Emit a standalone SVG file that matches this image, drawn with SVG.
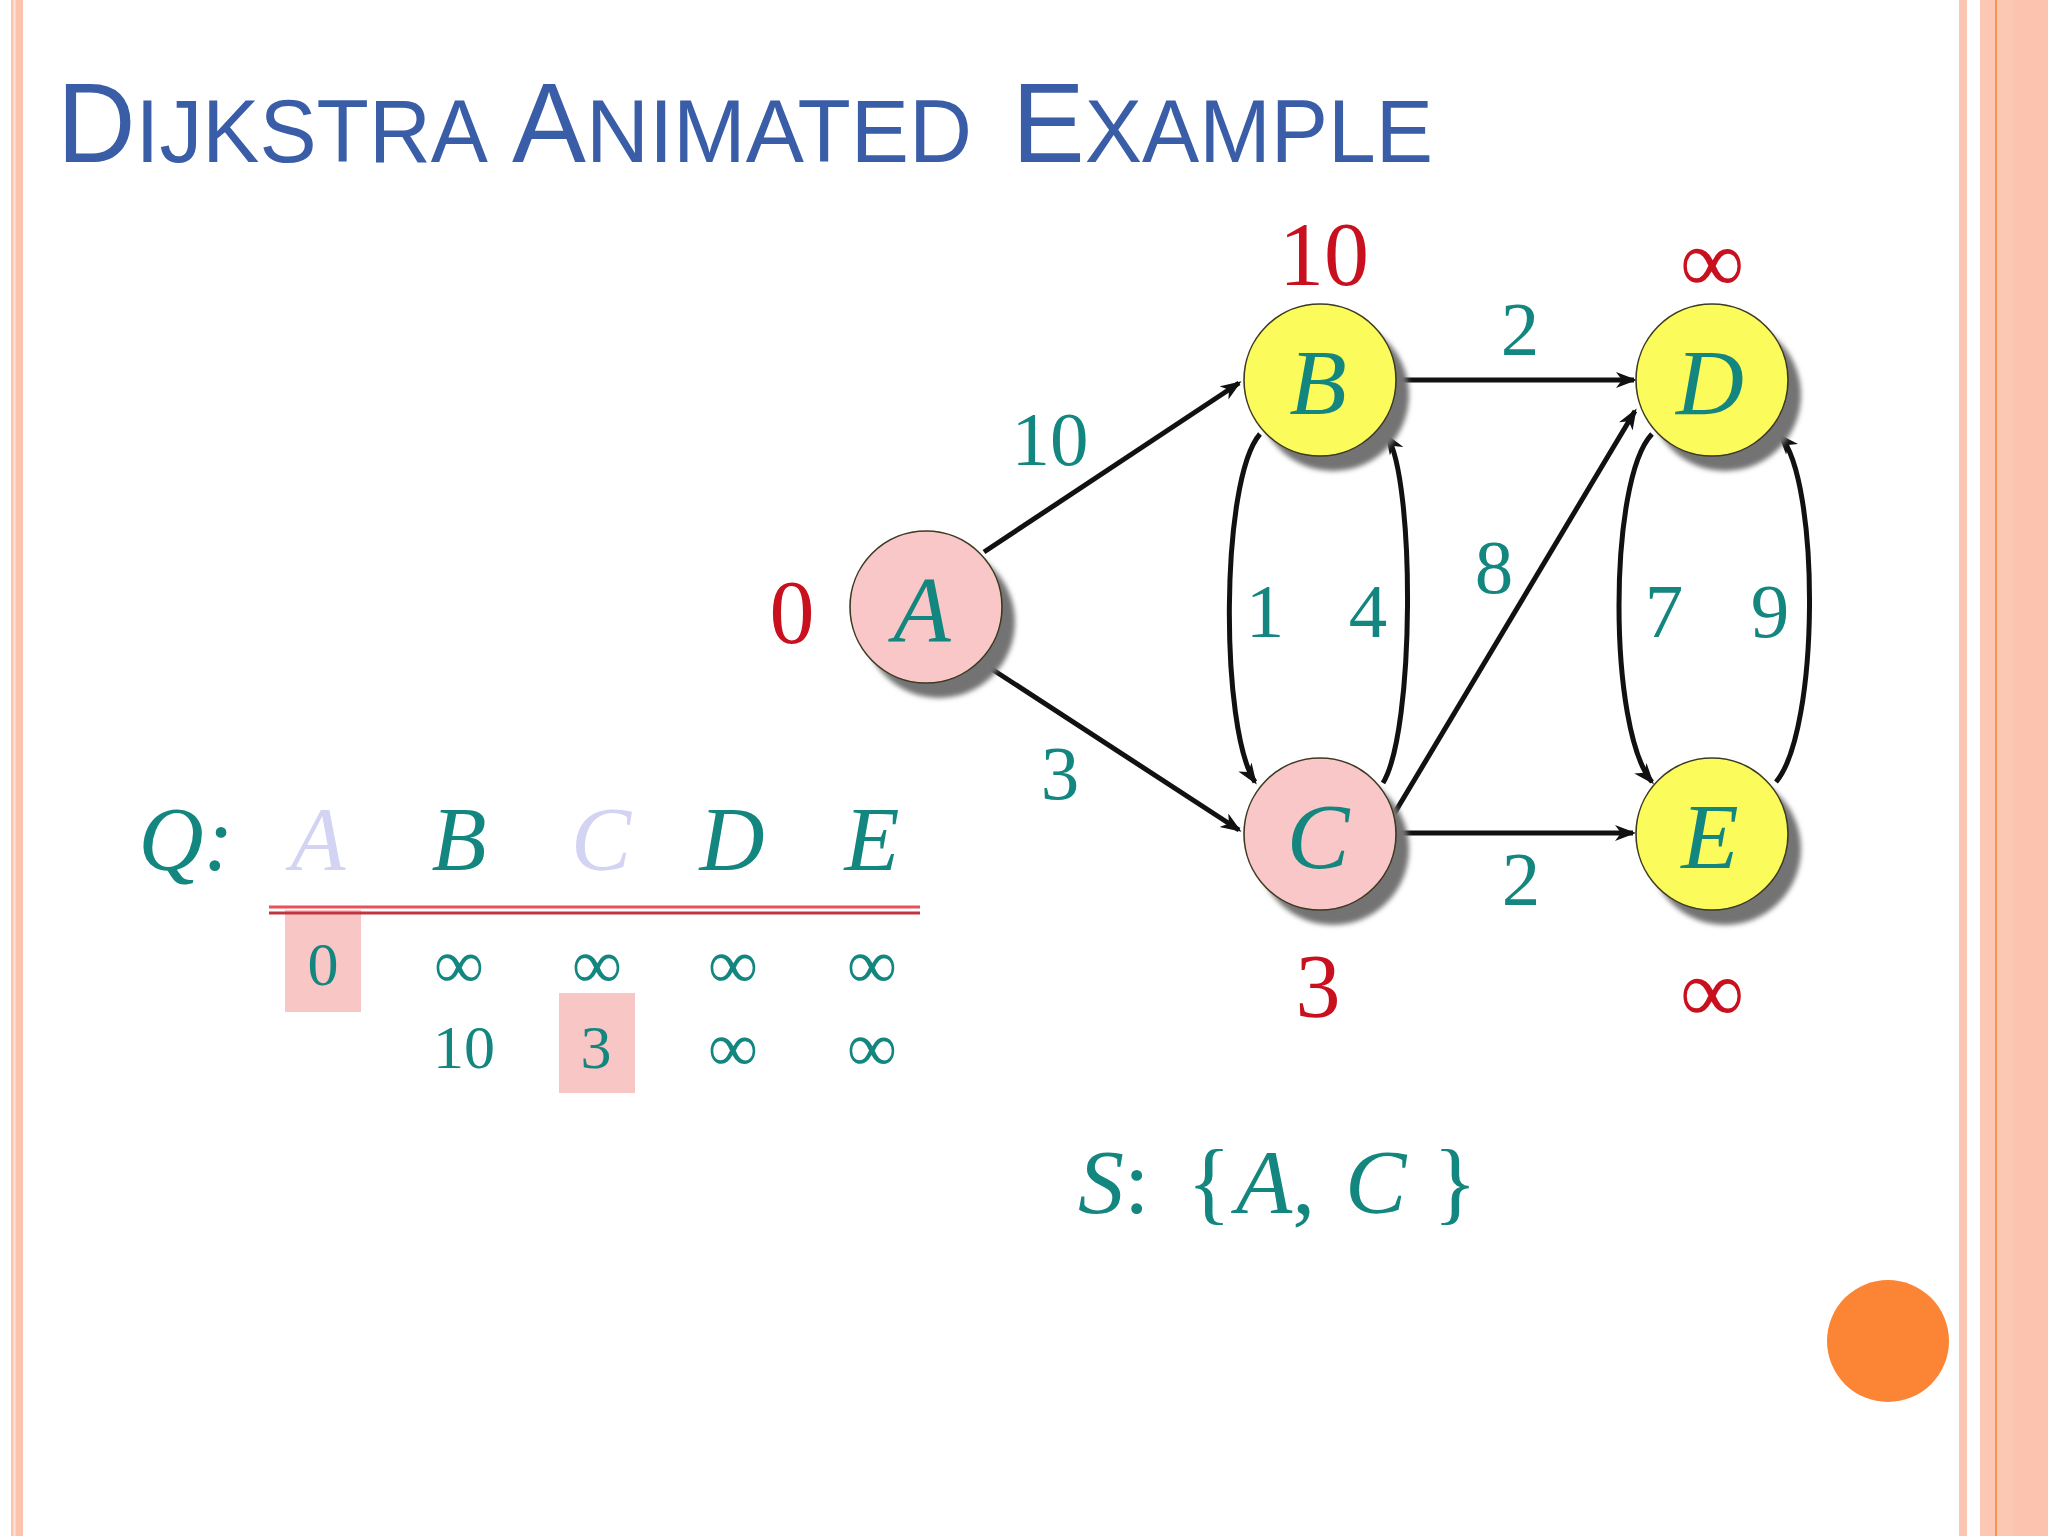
<svg xmlns="http://www.w3.org/2000/svg" width="2048" height="1536" viewBox="0 0 2048 1536">
<style>
.title{font-family:"Liberation Sans",Arial,sans-serif;fill:#3a5da8}
.big{font-size:113px}
.sm{font-size:89px}
.node{stroke:#3c3a22;stroke-width:1.6}
.pink{fill:#f9c7c7}
.yellow{fill:#fbfb5c}
.shadow{fill:#737373;filter:url(#blur)}
.nl{font-family:"Liberation Serif","Times New Roman",serif;font-style:italic;font-size:94px;fill:#13877f;text-anchor:middle}
.dist{font-family:"Liberation Serif","Times New Roman",serif;font-size:90px;fill:#c8101e;text-anchor:middle}
.w{font-family:"Liberation Serif","Times New Roman",serif;font-size:77px;fill:#13877f;text-anchor:middle}
.edge{fill:none;stroke:#111;stroke-width:5;marker-end:url(#arr)}
.qh{font-family:"Liberation Serif","Times New Roman",serif;font-style:italic;font-size:90px;fill:#13877f;text-anchor:middle}
.faded{fill:#d3d3f3}
.tv{font-family:"Liberation Serif","Times New Roman",serif;font-size:62px;fill:#13877f;text-anchor:middle}
.inf{font-size:70px}
.s{font-family:"Liberation Serif","Times New Roman",serif;font-size:92px;fill:#13877f}
</style>
<defs>
<filter id="blur" x="-20%" y="-20%" width="140%" height="140%"><feGaussianBlur stdDeviation="2.5"/></filter>
<marker id="arr" markerUnits="userSpaceOnUse" markerWidth="24" markerHeight="18" refX="18" refY="8" orient="auto">
<path d="M0,0 L21,8 L0,16 L6,8 z" fill="#111"/>
</marker>
</defs>
<rect width="2048" height="1536" fill="#ffffff"/>
<g id="frame">
<rect x="11" y="0" width="12" height="1536" fill="#fcc4ad"/>
<rect x="13.5" y="0" width="2" height="1536" fill="#fde3d8"/>
<rect x="1959" y="0" width="8" height="1536" fill="#fbc6b2"/>
<rect x="1980" y="0" width="68" height="1536" fill="#fcc8b4"/>
<rect x="2013" y="0" width="35" height="1536" fill="#fcc4ae"/>
<rect x="1995" y="0" width="2" height="1536" fill="#f79450"/>
<circle cx="1888" cy="1341" r="61" fill="#fb8535"/>
</g>
<g id="title">
<text class="title" x="57" y="162" textLength="431" lengthAdjust="spacingAndGlyphs"><tspan class="big">D</tspan><tspan class="sm">IJKSTRA</tspan></text>
<text class="title" x="512" y="162" textLength="460" lengthAdjust="spacingAndGlyphs"><tspan class="big">A</tspan><tspan class="sm">NIMATED</tspan></text>
<text class="title" x="1012" y="162" textLength="421" lengthAdjust="spacingAndGlyphs"><tspan class="big">E</tspan><tspan class="sm">XAMPLE</tspan></text>
</g>
<g id="connectors">
<path class="edge" d="M984,552 L1239,383"/>
<path class="edge" d="M984,664 L1239,830"/>
<path class="edge" d="M1396,380 L1634,380"/>
<path class="edge" d="M1396,833 L1633,833"/>
<path class="edge" d="M1394,814 L1635,411"/>
<path class="edge" d="M1260,434 C1220,480 1220,730 1255,782"/>
<path class="edge" d="M1383,783 C1415,730 1415,480 1387,436"/>
<path class="edge" d="M1652,434 C1608,480 1608,730 1652,782"/>
<path class="edge" d="M1776,782 C1820,730 1820,480 1780,436"/>
</g>
<g id="node-A">
<circle class="shadow" cx="939" cy="622" r="76"/>
<circle class="node pink" cx="926" cy="607" r="76"/>
<text class="nl" x="922" y="641">A</text>
</g>
<g id="node-B">
<circle class="shadow" cx="1333" cy="395" r="76"/>
<circle class="node yellow" cx="1320" cy="380" r="76"/>
<text class="nl" x="1318" y="414">B</text>
</g>
<g id="node-C">
<circle class="shadow" cx="1333" cy="849" r="76"/>
<circle class="node pink" cx="1320" cy="834" r="76"/>
<text class="nl" x="1318" y="868">C</text>
</g>
<g id="node-D">
<circle class="shadow" cx="1725" cy="395" r="76"/>
<circle class="node yellow" cx="1712" cy="380" r="76"/>
<text class="nl" x="1710" y="414">D</text>
</g>
<g id="node-E">
<circle class="shadow" cx="1725" cy="849" r="76"/>
<circle class="node yellow" cx="1712" cy="834" r="76"/>
<text class="nl" x="1710" y="868">E</text>
</g>
<g id="distances">
<text class="dist" x="1324" y="285">10</text>
<text class="dist" x="1712" y="292">∞</text>
<text class="dist" x="792" y="643">0</text>
<text class="dist" x="1318" y="1017">3</text>
<text class="dist" x="1712" y="1022">∞</text>
</g>
<g id="weights">
<text class="w" x="1050" y="465">10</text>
<text class="w" x="1060" y="799">3</text>
<text class="w" x="1265" y="637">1</text>
<text class="w" x="1368" y="637">4</text>
<text class="w" x="1520" y="355">2</text>
<text class="w" x="1494" y="593">8</text>
<text class="w" x="1664" y="637">7</text>
<text class="w" x="1770" y="637">9</text>
<text class="w" x="1521" y="905">2</text>
</g>
<g id="queue">
<rect x="285" y="910" width="76" height="102" fill="#f9c6c6"/>
<rect x="559" y="993" width="76" height="100" fill="#f9c6c6"/>
<line x1="269" y1="907" x2="920" y2="907" stroke="#e8505a" stroke-width="3"/>
<line x1="269" y1="913" x2="920" y2="913" stroke="#c03540" stroke-width="3"/>
<text class="qh" x="186" y="870">Q:</text>
<text class="qh faded" x="318" y="870">A</text>
<text class="qh" x="459" y="870">B</text>
<text class="qh faded" x="601" y="870">C</text>
<text class="qh" x="732" y="870">D</text>
<text class="qh" x="872" y="870">E</text>
<text class="tv" x="323" y="985">0</text>
<text class="tv inf" x="459" y="988">∞</text>
<text class="tv inf" x="597" y="988">∞</text>
<text class="tv inf" x="733" y="988">∞</text>
<text class="tv inf" x="872" y="988">∞</text>
<text class="tv" x="464" y="1068">10</text>
<text class="tv" x="596" y="1068">3</text>
<text class="tv inf" x="733" y="1071">∞</text>
<text class="tv inf" x="872" y="1071">∞</text>
</g>
<g id="set-S">
<text class="s" x="1078" y="1213"><tspan font-style="italic">S</tspan>:</text>
<text class="s" x="1187" y="1213">{</text>
<text class="s" x="1236" y="1213"><tspan font-style="italic">A</tspan>,</text>
<text class="s" x="1345" y="1213" font-style="italic">C</text>
<text class="s" x="1433" y="1213">}</text>
</g>
</svg>
